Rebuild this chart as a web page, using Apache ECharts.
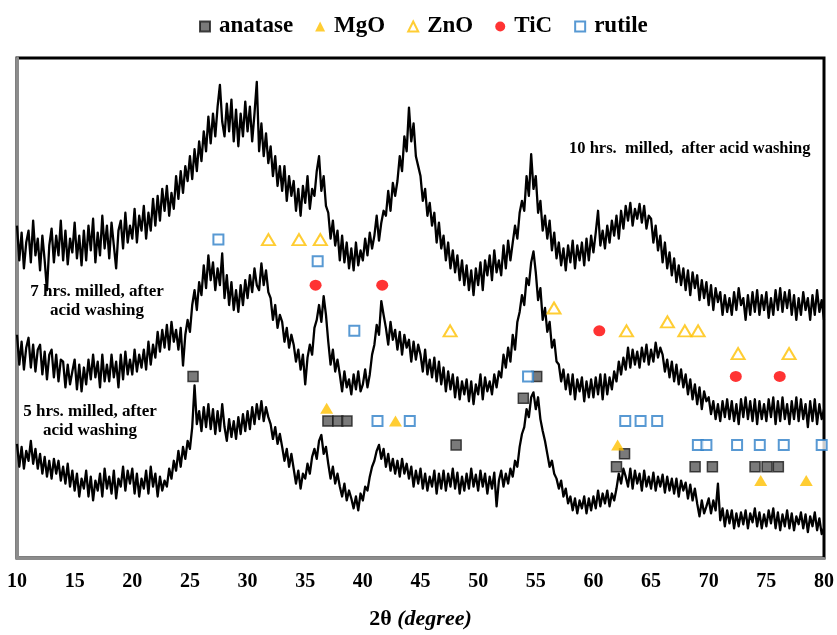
<!DOCTYPE html>
<html>
<head>
<meta charset="utf-8">
<script src="https://cdn.jsdelivr.net/npm/echarts@6/dist/echarts.min.js"></script>
<style>
html,body{margin:0;padding:0;background:#fff;}
#chart{width:837px;height:635px;}
</style>
</head>
<body>
<div id="chart"></div>
<script>
// 2θ grid of the scans (degrees)
const twoThetaStart = 10;
const twoThetaStep = 0.2;

// Intensity (arbitrary units, offset traces), one value per 0.2°
const intensity10h = [
335,300,328,292,318, 330,298,340,305,322, 290,325,300,270,315, 332,298,325,305,340,
300,330,296,322,308, 338,302,325,295,330, 300,335,310,342,298, 328,305,345,312,335,
302,338,315,292,330, 340,312,348,318,335, 322,352,318,345,330, 355,322,348,330,362,
335,365,340,372,350, 375,345,368,352,385, 362,390,368,395,380, 405,382,412,390,420,
400,430,410,445,418, 448,425,455,477,440, 425,458,430,462,420, 452,415,448,425,460,
430,455,420,448,480, 410,438,405,428,398, 415,385,405,375,395, 370,395,360,385,365,
380,350,372,345,375, 358,385,352,372,365, 390,405,370,385,355, 348,322,340,315,330,
300,325,298,318,292, 312,290,318,295,310, 300,322,305,328,312, 325,345,320,338,350,
345,370,350,378,365, 380,405,390,425,410, 454,420,438,405,395, 385,360,372,345,358,
335,348,318,338,312, 325,300,318,292,310, 288,305,280,300,275, 295,270,290,265,292,
275,298,270,300,285, 305,280,310,288,300, 285,315,292,320,300, 318,335,322,348,360,
350,385,365,407,372, 385,348,360,330,345, 322,340,310,328,302, 318,295,312,290,315,
298,320,292,315,300, 318,295,322,300,325, 308,328,350,315,330, 312,335,318,340,325,
345,322,350,332,355, 340,358,335,352,342, 357,338,355,332,345, 342,318,335,310,325,
298,318,292,308,285, 302,278,295,275,292, 270,290,265,288,272, 285,260,280,262,278,
255,275,250,272,258, 268,245,265,248,262, 245,268,250,272,255, 262,240,265,245,268,
248,270,245,265,250, 268,242,262,245,270, 250,272,248,268,252, 270,245,265,240,262,
245,268,250,262,240, 265,245,270,248,260, 240
];
const intensity7h = [
225,195,218,190,212, 222,192,215,188,210, 215,185,208,180,205, 210,182,205,178,200,
198,172,195,175,188, 200,170,195,168,192, 175,200,180,205,182, 198,172,205,178,195,
178,205,182,198,172, 205,180,208,185,200, 185,210,188,205,192, 210,190,218,195,215,
202,228,208,230,212, 235,210,238,218,230, 210,232,194,225,240, 228,255,270,250,278,
265,295,272,305,280, 298,270,292,275,307, 262,285,255,278,250, 270,248,275,255,280,
262,285,268,292,275, 270,297,275,290,268, 262,240,255,232,245, 238,218,232,212,225,
215,198,210,190,205, 175,202,215,205,232, 240,255,238,264,245, 218,195,210,188,200,
185,168,188,172,180, 165,185,170,188,168, 175,190,172,185,205, 215,235,225,259,245,
232,215,238,220,230, 210,228,205,225,212, 220,198,218,200,215, 205,188,210,185,200,
182,202,178,198,175, 192,168,188,170,185, 162,182,160,178,165, 180,158,178,155,175,
165,185,160,182,168, 178,165,185,172,188, 182,205,192,212,198, 225,210,238,248,265,
255,282,275,298,309, 288,260,272,240,252, 228,238,212,220,198, 195,178,190,170,185,
165,185,160,180,168, 182,158,178,162,180, 162,182,165,185,160, 185,165,182,170,188,
178,198,185,202,190, 212,192,210,195,208, 192,212,198,215,195, 210,198,217,202,212,
205,188,200,182,198, 178,195,175,190,172, 185,165,180,160,175, 155,172,150,168,158,
162,145,158,140,155, 138,158,142,160,140, 158,138,155,135,160, 142,162,140,158,138,
160,135,158,140,155, 138,160,142,162,135, 158,138,162,140,155, 135,158,140,162,138,
160,140,155,132,158, 138,160,135,155,140, 150
];
const intensity5h = [
115,92,112,90,108, 98,118,95,110,90, 105,85,102,82,98, 80,100,85,98,78,
92,75,95,72,88, 68,85,62,80,70, 88,62,82,58,78, 68,85,62,90,70,
82,65,88,60,80, 72,92,68,88,75, 90,65,85,62,80, 70,88,65,92,72,
85,62,82,68,78, 72,90,80,98,88, 108,92,112,100,118, 110,132,174,135,148,
128,152,132,155,130, 150,125,148,128,155, 132,118,140,122,138, 120,142,125,145,128,
148,130,152,135,155, 140,158,138,152,142, 135,120,132,115,125, 112,98,110,92,105,
90,75,88,70,85, 80,95,85,102,110, 100,118,124,105,112, 95,80,92,75,85,
72,62,75,58,68, 60,50,62,48,65, 58,72,68,82,92, 98,108,114,100,110,
92,105,88,100,85, 98,82,100,85,95, 80,92,72,88,75, 90,70,85,68,82,
72,88,65,85,70, 88,68,85,72,90, 70,86,65,82,68, 85,70,90,72,84,
68,88,72,85,65, 82,70,86,52,78, 88,72,85,75,90, 82,98,92,112,125,
132,150,142,162,167, 150,162,140,128,118, 105,92,98,85,80, 70,78,62,70,55,
62,48,60,45,58, 50,62,45,60,48, 62,50,68,52,65, 55,68,52,65,58,
70,85,75,90,82, 72,90,70,88,75, 85,68,88,72,82, 70,86,68,82,72,
84,66,82,68,80, 65,80,62,78,68, 76,60,74,58,70, 55,42,58,45,52,
60,45,58,48,75, 38,50,32,48,35, 48,30,45,32,46, 34,48,30,45,36,
50,32,46,30,44, 32,48,35,50,30, 46,28,44,32,48, 30,45,28,42,34,
46,30,44,26,42, 32,46,28,40,24, 30
];

// Phase reflections: [2θ, marker level]
const anatasePeaks = [[25.27,183],[36.97,138],[37.83,138],[38.62,138],[48.09,114],[53.92,161],[55.08,183],[62.0,92],[62.7,105],[68.82,92],[70.32,92],[74.02,92],[75.06,92],[76.04,92]];
const mgoPeaks = [[36.86,151],[42.83,138],[62.1,114],[74.51,78],[78.46,78]];
const znoPeaks = [[31.81,321],[34.46,321],[36.31,321],[47.57,229],[56.58,252],[62.87,229],[66.42,238],[67.93,229],[69.08,229],[72.55,206],[76.97,206]];
const ticPeaks = [[35.9,275],[41.68,275],[60.51,229],[72.35,183],[76.16,183]];
const rutilePeaks = [[27.47,321],[36.08,299],[39.26,229],[41.27,138],[44.07,138],[54.33,183],[62.76,138],[64.09,138],[65.53,138],[69.06,114],[69.8,114],[72.46,114],[74.43,114],[76.51,114],[79.8,114]];

const sampleLabels = ['10 hrs.  milled,  after acid washing', '7 hrs. milled, after\nacid washing', '5 hrs. milled, after\nacid washing'];

function toPairs(arr){ return arr.map((v,i)=>[+(twoThetaStart + i*twoThetaStep).toFixed(2), v]); }

const serif = '"Liberation Serif","Times New Roman",serif';
const chart = echarts.init(document.getElementById('chart'), null, {renderer:'canvas'});

function trace(name, arr){
  return {name:name, type:'line', data:toPairs(arr), showSymbol:false, symbol:'none',
    lineStyle:{color:'#000', width:2.3, join:'round'}, z:2, silent:true};
}

chart.setOption({
  animation:false,
  backgroundColor:'#fff',
  grid:{left:17, right:12, top:58, bottom:73, show:true, borderColor:'#000', borderWidth:3, containLabel:false},
  legend:{
    data:['anatase','MgO','ZnO','TiC','rutile'],
    top:10, left:194, itemGap:22, itemWidth:10, itemHeight:10, selectedMode:false,
    textStyle:{fontFamily:serif, fontWeight:'bold', fontSize:23, color:'#000', padding:[0,0,0,4]}
  },
  xAxis:{
    type:'value', min:10, max:80, interval:5,
    axisLine:{show:true, lineStyle:{color:'#8c8c8c', width:3}},
    axisTick:{show:false}, splitLine:{show:false},
    axisLabel:{color:'#000', fontFamily:serif, fontWeight:'bold', fontSize:20, margin:14},
    name:'{a|2θ }{b|(degree)}', nameLocation:'middle', nameGap:50,
    nameTextStyle:{rich:{
      a:{fontFamily:serif, fontWeight:'bold', fontSize:22, color:'#000'},
      b:{fontFamily:serif, fontWeight:'bold', fontStyle:'italic', fontSize:22, color:'#000'}
    }}
  },
  yAxis:{
    type:'value', min:0, max:504,
    axisLine:{show:true, lineStyle:{color:'#8c8c8c', width:3}},
    axisTick:{show:false}, axisLabel:{show:false}, splitLine:{show:false}
  },
  graphic:[
    {type:'text', style:{text:sampleLabels[0], x:569, y:149, textAlign:'left', textVerticalAlign:'middle', font:'bold 16.5px '+serif, fill:'#000'}},
    {type:'text', style:{text:sampleLabels[1], x:97, y:301, textAlign:'center', textVerticalAlign:'middle', font:'bold 17px '+serif, fill:'#000', lineHeight:19}},
    {type:'text', style:{text:sampleLabels[2], x:90, y:421, textAlign:'center', textVerticalAlign:'middle', font:'bold 17px '+serif, fill:'#000', lineHeight:19}}
  ],
  series:[
    trace('10h', intensity10h),
    trace('7h', intensity7h),
    trace('5h', intensity5h),
    {name:'anatase', type:'scatter', data:anatasePeaks, symbol:'rect', symbolSize:10, z:5,
      itemStyle:{color:'#595959', borderColor:'#1a1a1a', borderWidth:1.5}},
    {name:'MgO', type:'scatter', data:mgoPeaks, symbol:'triangle', symbolSize:[13,11], z:5,
      itemStyle:{color:'#FFC000'}},
    {name:'ZnO', type:'scatter', data:znoPeaks, symbol:'triangle', symbolSize:[13,11], z:5,
      itemStyle:{color:'#fff', borderColor:'#FFC000', borderWidth:2}},
    {name:'TiC', type:'scatter', data:ticPeaks, symbol:'circle', symbolSize:[12,11], z:5,
      itemStyle:{color:'#FF0000'}},
    {name:'rutile', type:'scatter', data:rutilePeaks, symbol:'rect', symbolSize:10, z:5,
      itemStyle:{color:'#fff', borderColor:'#2E7FC8', borderWidth:2}}
  ]
});
</script>
</body>
</html>
